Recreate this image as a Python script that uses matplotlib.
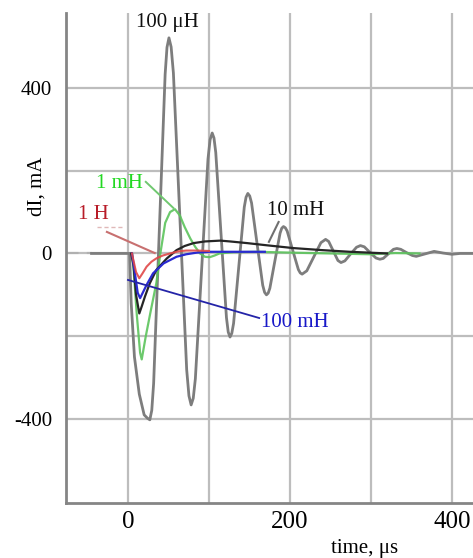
import matplotlib.pyplot as plt
from matplotlib.ticker import FixedLocator

plt.rcParams['font.family'] = ['Liberation Serif', 'DejaVu Serif']
plt.rcParams['axes.unicode_minus'] = False

# 100 uH response (grey, strongly ringing)
t_100uH = [-45, 0, 2, 4, 8, 14, 20, 24, 27, 29.4, 31.7, 38.8, 45.9, 48.2, 50.6, 53.3,
           56.1, 64.3, 72.5, 75.3, 78, 80.6, 83.2, 91, 98.8, 101.4, 104, 106.2,
           108.4, 115, 121.6, 123.8, 126, 128.2, 130.4, 137, 143.6, 145.8,
           148, 150.3, 152.6, 159.5, 166.4, 168.7, 171, 173.1, 175.2, 181.5, 187.8,
           189.9, 192, 194.3, 196.6, 203.5, 210.4, 212.7, 215, 220.8, 229.5, 238.2,
           244, 247.8, 253.5, 259.2, 263, 267.8, 275, 282.2, 287, 291.8, 299, 306.2,
           311, 315.2, 321.5, 327.8, 332, 336.8, 344, 351.2, 356, 367, 378, 389, 400,
           410, 426]
v_100uH = [0, 0, 0, -120, -250, -340, -390, -398, -402, -379, -314, 60, 433, 498, 521,
           499, 436, 78, -281, -344, -366, -350, -303, -37, 228, 275, 291, 279,
           244, 44, -155, -190, -202, -193, -169, -28, 112, 136,
           145, 139, 122, 22, -77, -94, -100, -96, -84, -17, 49,
           61, 65, 62, 54, 7, -39, -47, -50, -42, -8, 26,
           34, 29, 6, -17, -22, -18, -1, 15, 19, 16, 2, -11,
           -14, -12, -1, 10, 12, 10, 2, -5, -7, -1, 5, 1, -2,
           0, 0]

# 1 mH response (green)
t_1mH = [5, 7, 11, 15, 17, 22, 28, 35, 40, 46, 52, 58, 64, 70, 77, 83, 89, 95, 101,
         107, 113, 130, 160, 200, 250, 300, 330, 360]
v_1mH = [0, -40, -150, -240, -256, -200, -140, -72, 0, 74, 100, 107, 92, 64, 36, 16,
         0, -8, -9, -5, 0, 3, 4, 2, 0, -2, 1, 0]

# 10 mH response (black)
t_10mH = [4, 7, 10, 14, 17, 21, 27, 35, 48, 60, 70, 81, 95, 114, 126, 147, 170, 204,
          240, 274, 320]
v_10mH = [0, -30, -100, -145, -128, -104, -72, -40, -12, 8, 18, 25, 29, 31, 29, 25,
          20, 13, 8, 4, 0]

# 100 mH response (blue)
t_100mH = [5, 8, 12, 15, 19, 23, 31, 44, 60, 72, 85, 100, 134, 169]
v_100mH = [0, -40, -95, -108, -92, -76, -48, -24, -8, -2, 2, 4, 4, 4]

# 1 H response (red)
t_1H = [5, 6, 10, 14, 18, 23, 29, 35, 43, 52, 62, 72, 85, 100]
v_1H = [0, -10, -45, -60, -48, -32, -20, -12, -5, 0, 5, 7, 7, 6]

fig = plt.figure(figsize=(4.73, 5.58), dpi=100)
ax = fig.add_axes([66 / 473, 55 / 558, 407 / 473, 490 / 558])

ax.plot([-76, -45], [0, 0], color='#b0b0b0', lw=1.5, ls=(0, (6, 4)))
ax.plot(t_100uH, v_100uH, color='#7d7d7d', lw=2.0, zorder=3)
ax.plot(t_1mH, v_1mH, color='#5cc45c', lw=1.6, alpha=0.9, zorder=4)
ax.plot(t_10mH, v_10mH, color='#252525', lw=1.6, zorder=5)
ax.plot(t_100mH, v_100mH, color='#2a2ad0', lw=1.6, zorder=6)
ax.plot(t_1H, v_1H, color='#e04848', lw=1.5, alpha=0.9, zorder=7)

# labels and leader lines
ax.text(49, 557, '100 μH', fontsize=15, ha='center', va='center', color='#111111')
ax.text(-10.5, 168, '1 mH', fontsize=15, ha='center', va='center', color='#22d822')
ax.plot([22, 56], [173, 110], color='#70c870', lw=1.4, zorder=4)
ax.text(-42.6, 95, '1 H', fontsize=15, ha='center', va='center', color='#b81c28')
ax.plot([-38, -7], [64, 64], color='#e0b8b8', lw=1.0, ls=(0, (3, 2)))
ax.plot([-26, 33], [52, 1], color='#c87070', lw=1.5, zorder=4)
ax.text(207, 103, '10 mH', fontsize=15, ha='center', va='center', color='#111111')
ax.plot([186, 174], [76, 28], color='#707070', lw=1.5, zorder=4)
ax.text(206, -166, '100 mH', fontsize=15, ha='center', va='center', color='#1818c8')
ax.plot([0, 162], [-64, -156], color='#2424a8', lw=1.3, zorder=8)

ax.set_xlim(-76.5, 426)
ax.set_ylim(-603, 581)
ax.xaxis.set_major_locator(FixedLocator([0, 200, 400]))
ax.xaxis.set_minor_locator(FixedLocator([100, 300]))
ax.yaxis.set_major_locator(FixedLocator([-400, 0, 400]))
ax.yaxis.set_minor_locator(FixedLocator([-200, 200]))
ax.grid(True, which='both', color='#bdbdbd', lw=1.6)
ax.set_axisbelow(True)
ax.tick_params(which='both', length=0)
ax.tick_params(axis='x', labelsize=18, pad=6)
ax.tick_params(axis='y', labelsize=15, pad=10)

for side in ['top', 'right']:
    ax.spines[side].set_visible(False)
for side in ['left', 'bottom']:
    ax.spines[side].set_color('#858585')
    ax.spines[side].set_linewidth(2.0)

fig.text(37 / 473, 1 - 186 / 558, 'dI, mA', rotation=90, fontsize=15,
         ha='center', va='center')
fig.text(365 / 473, 1 - 549 / 558, 'time, μs', fontsize=15, ha='center', va='center')

fig.savefig('out.png', dpi=100)
